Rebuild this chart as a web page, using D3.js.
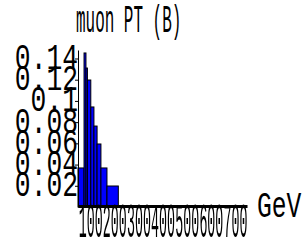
<!DOCTYPE html>
<html>
<head>
<meta charset="utf-8">
<script src="https://cdn.jsdelivr.net/npm/d3@7"></script>
<style>
  body { margin: 0; background: #fff; }
</style>
</head>
<body>
<div id="canvas"></div>
<script>
"use strict"

// histogram data: variable bin edges (GeV) and the bin contents
let binEdges = [0, 25, 33, 39, 53, 66, 79, 95, 120, 167, 700]
let binValues = [0.0368, 0.1452, 0.1310, 0.1197, 0.0943, 0.0763, 0.0594, 0.0368, 0.0198, 0]

let yTickValues = [0.02, 0.04, 0.06, 0.08, 0.1, 0.12, 0.14]
let yTickLabels = ["0.02", "0.04", "0.06", "0.08", "0.1", "0.12", "0.14"]
let xTickValues = [100, 200, 300, 400, 500, 600, 700]
let xTickLabels = ["100", "200", "300", "400", "500", "600", "700"]

let titleText = "muon PT (B)"
let unitText = "GeV"

let monoFont = "Liberation Mono"

let drawing = d3.select("#canvas")
    .append("svg")
    .attr("width", 305)
    .attr("height", 242)

let x = d3.scaleLinear()
    .domain([0, 700])
    .range([78, 247])

let y = d3.scaleLinear()
    .domain([0, 0.148])
    .range([207, 50])

// bins built from the edges and values
let bins = binValues.map((v, i) => ({ x0: binEdges[i], x1: binEdges[i + 1], value: v }))

let bars = drawing.append("g")
    .selectAll("rect")
    .data(bins)
    .join("rect")
    .attr("x", d => x(d.x0))
    .attr("y", d => y(d.value))
    .attr("width", d => x(d.x1) - x(d.x0))
    .attr("height", d => y(0) - y(d.value))
    .attr("fill", "#0000ff")
    .attr("stroke", "black")
    .attr("stroke-width", 1)

// y axis, thin line with small ticks, tall labels centred on the ticks
let yAxis = drawing.append("g")
    .attr("transform", "translate(78,0)")
    .call(d3.axisLeft(y)
        .tickValues(yTickValues)
        .tickFormat((d, i) => yTickLabels[i])
        .tickSize(3)
        .tickSizeOuter(0))

yAxis.select(".domain").attr("stroke", "black")
yAxis.selectAll(".tick line").attr("stroke", "black")
yAxis.selectAll(".tick text")
    .attr("x", 0)
    .attr("dy", 0)
    .attr("transform", "translate(0,10) scale(0.94,1.3)")
    .attr("text-anchor", "end")
    .attr("font-family", monoFont)
    .attr("font-size", 28)
    .attr("fill", "black")

// x axis, thick base line and squeezed labels ending at each tick
let xAxis = drawing.append("g")
    .attr("transform", "translate(0,206)")
    .style("filter", "grayscale(1)")
    .call(d3.axisBottom(x)
        .tickValues(xTickValues)
        .tickFormat((d, i) => xTickLabels[i])
        .tickSize(0)
        .tickSizeOuter(0))

xAxis.select(".domain")
    .attr("stroke", "black")
    .attr("stroke-width", 3)
xAxis.selectAll(".tick text")
    .attr("y", 0)
    .attr("dy", 0)
    .attr("transform", "translate(0,31) scale(0.444,1.6)")
    .attr("text-anchor", "end")
    .attr("font-family", monoFont)
    .attr("font-size", 30)
    .attr("fill", "black")

// unit label at the right end of the x axis
let unit = drawing.append("text")
    .attr("transform", "translate(257,217) scale(0.88,1.3)")
    .attr("font-family", monoFont)
    .attr("font-size", 28)
    .attr("fill", "black")
    .text(unitText)

// title on top
let title = drawing.append("text")
    .attr("transform", "translate(76,32) scale(0.57,1.4)")
    .attr("font-family", monoFont)
    .attr("font-size", 28)
    .attr("fill", "black")
    .text(titleText)
</script>
</body>
</html>
